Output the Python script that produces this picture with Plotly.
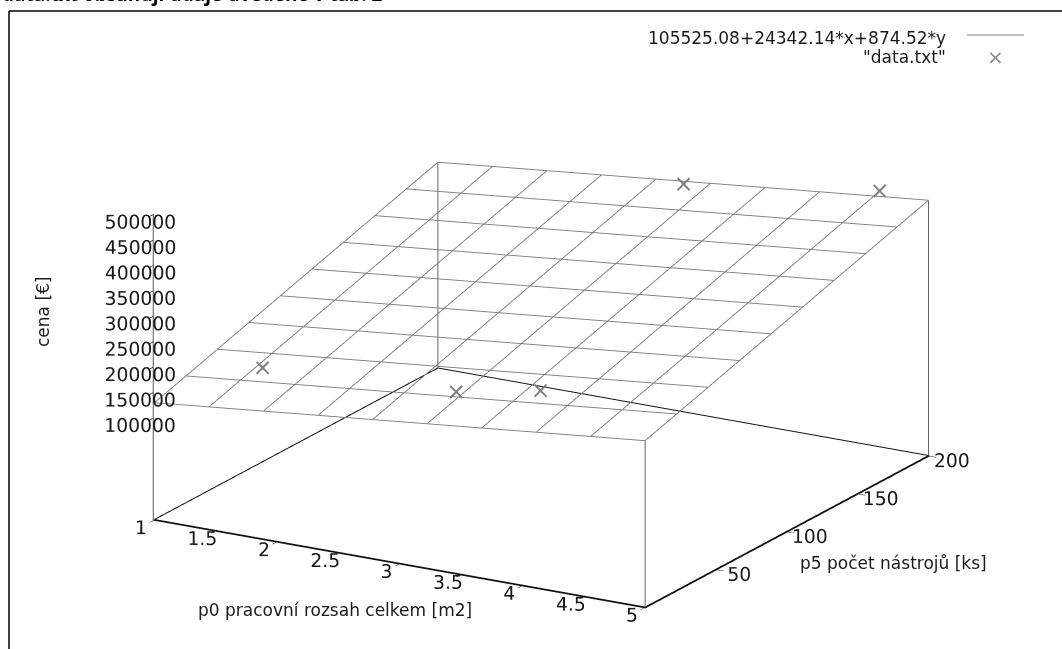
import numpy as np
import plotly.graph_objects as go

# ---- fitted plane drawn in the chart: cena = A + B*p0 + C*p5 ----
plane_a = 105525.08
plane_b = 24342.14
plane_c = 874.52
plane_label = "105525.08+24342.14*x+874.52*y"
isosamples = 10

# ---- points from "data.txt" ----
data_p0 = [1.5, 3.17, 3.8, 3.06, 4.6]
data_p5 = [33, 25, 30, 195, 200]
data_cena = [171000, 207500, 229500, 358000, 403500]
data_label = '"data.txt"'

# ---- axes ----
x_range = [1, 5]
y_range = [0, 200]
z_range = [-100000, 500000]   # bottom = gnuplot base plane (ticslevel 0.5)
x_ticks = [1, 1.5, 2, 2.5, 3, 3.5, 4, 4.5, 5]
x_ticktext = ["1", "1.5", "2", "2.5", "3", "3.5", "4", "4.5", "5"]
y_ticks = [50, 100, 150, 200]
y_ticktext = ["50", "100", "150", "200"]
z_ticks = [100000, 150000, 200000, 250000, 300000, 350000, 400000, 450000, 500000]
z_ticktext = ["100000", "150000", "200000", "250000", "300000", "350000", "400000", "450000", "500000"]
x_title = "p0 pracovní rozsah celkem [m2]"
y_title = "p5 počet nástrojů [ks]"
z_title = "cena [€]"
caption = "data.txt obsahují údaje uvedené v tab. 2"

FONT = "DejaVu Sans"
MESH = "#7a7a7a"
W, H = 1062, 649
SCALE = 1.81
PAD = 0.0015   # tiny range padding so edge lines are not clipped by the scene bounds


def plane(x, y):
    return plane_a + plane_b * x + plane_c * y


def padded(r):
    d = (r[1] - r[0]) * PAD
    return [r[0] - d, r[1] + d]


def px(v):
    return v / W


def py(v):
    return 1 - v / H


def seg(fig, x, y, z, color, width):
    fig.add_trace(go.Scatter3d(x=x, y=y, z=z, mode="lines",
                               line=dict(color=color, width=width),
                               hoverinfo="skip", showlegend=False))


xs = np.linspace(x_range[0], x_range[1], isosamples)
ys = np.linspace(y_range[0], y_range[1], isosamples)

fig = go.Figure()

# wireframe of the function surface (isolines), one trace per isoline
for xv in xs:
    seg(fig, [xv] * len(ys), list(ys), [plane(xv, yv) for yv in ys], MESH, 1.8)
for yv in ys:
    seg(fig, list(xs), [yv] * len(xs), [plane(xv, yv) for xv in xs], MESH, 1.8)

# vertical corner lines from base to surface corners
for xv, yv in [(x_range[0], y_range[1]), (x_range[1], y_range[0]), (x_range[1], y_range[1])]:
    seg(fig, [xv, xv], [yv, yv], [z_range[0], plane(xv, yv)], "#666666", 2)

# base box, one trace per edge
corners = [(x_range[0], y_range[0]), (x_range[1], y_range[0]),
           (x_range[1], y_range[1]), (x_range[0], y_range[1])]
for i in range(4):
    (x0, y0), (x1, y1) = corners[i], corners[(i + 1) % 4]
    seg(fig, [x0, x1], [y0, y1], [z_range[0], z_range[0]], "#111111", 2)

# data points
fig.add_trace(go.Scatter3d(x=data_p0, y=data_p5, z=data_cena, mode="text",
                           text=["×"] * len(data_p0), textposition="middle center",
                           textfont=dict(family=FONT, size=24, color="#808080"),
                           hoverinfo="skip", showlegend=False))

axis_common = dict(showbackground=False, showgrid=False, zeroline=False,
                   showspikes=False, showline=True, linecolor="#111111", linewidth=2,
                   ticks="inside", ticklen=8, tickcolor="#111111", tickwidth=1.5,
                   tickangle=0,
                   tickfont=dict(family=FONT, size=15, color="#1a1a1a"),
                   title=dict(text=""), tickmode="array")

fig.update_layout(
    width=W, height=H,
    margin=dict(l=0, r=0, t=0, b=0),
    paper_bgcolor="white",
    font=dict(family=FONT, size=17, color="#1a1a1a"),
    hovermode=False,
    showlegend=False,
    scene=dict(
        domain=dict(x=[0.02, 1.0], y=[0.0, 0.968]),
        bgcolor="white",
        xaxis=dict(axis_common, range=padded(x_range), tickvals=x_ticks, ticktext=x_ticktext),
        yaxis=dict(axis_common, range=padded(y_range), tickvals=y_ticks, ticktext=y_ticktext),
        zaxis=dict(axis_common, range=padded(z_range), tickvals=z_ticks, ticktext=z_ticktext,
                   linecolor="#555555"),
        aspectmode="manual",
        aspectratio=dict(x=SCALE, y=SCALE, z=0.566 * SCALE),
        camera=dict(projection=dict(type="orthographic"),
                    up=dict(x=0, y=0, z=1),
                    center=dict(x=0, y=0, z=0),
                    eye=dict(x=0.476 * 2.0, y=-0.824 * 2.0, z=0.309 * 2.0)),
    ),
)

# frame of the surrounding page and the cut caption
fig.add_shape(type="line", xref="paper", yref="paper", x0=px(9), x1=1, y0=py(11), y1=py(11),
              line=dict(color="black", width=1.5))
fig.add_shape(type="line", xref="paper", yref="paper", x0=px(9), x1=px(9), y0=0, y1=py(11),
              line=dict(color="black", width=1.5))
fig.add_annotation(text="<b>" + caption + "</b>", xref="paper", yref="paper", x=0, y=py(9),
                   xanchor="left", yanchor="bottom", showarrow=False,
                   font=dict(family="Open Sans", size=19, color="black"))

# axis titles (as gnuplot places them)
fig.add_annotation(text=x_title, xref="paper", yref="paper", x=px(335), y=py(610),
                   xanchor="center", yanchor="middle", showarrow=False, font=dict(family=FONT, size=17))
fig.add_annotation(text=y_title, xref="paper", yref="paper", x=px(893), y=py(563),
                   xanchor="center", yanchor="middle", showarrow=False, font=dict(family=FONT, size=17))
fig.add_annotation(text=z_title, xref="paper", yref="paper", x=px(43), y=py(312),
                   xanchor="center", yanchor="middle", showarrow=False, textangle=-90,
                   font=dict(family=FONT, size=17))

# key (gnuplot style: text right-aligned, sample on the right)
fig.add_annotation(text=plane_label, xref="paper", yref="paper", x=px(948), y=py(38),
                   xanchor="right", yanchor="middle", showarrow=False, font=dict(family=FONT, size=17))
fig.add_annotation(text=data_label, xref="paper", yref="paper", x=px(948), y=py(57),
                   xanchor="right", yanchor="middle", showarrow=False, font=dict(family=FONT, size=17))
fig.add_shape(type="line", xref="paper", yref="paper", x0=px(967), x1=px(1024),
              y0=py(35), y1=py(35), line=dict(color="#a8a8a8", width=1.5))
fig.add_annotation(text="×", xref="paper", yref="paper", x=px(995), y=py(57),
                   xanchor="center", yanchor="middle",
                   showarrow=False, font=dict(family=FONT, size=20, color="#8c8c8c"))

fig.write_html("out.html", config={"displayModeBar": False},
               post_script="document.body.style.margin='0';")
